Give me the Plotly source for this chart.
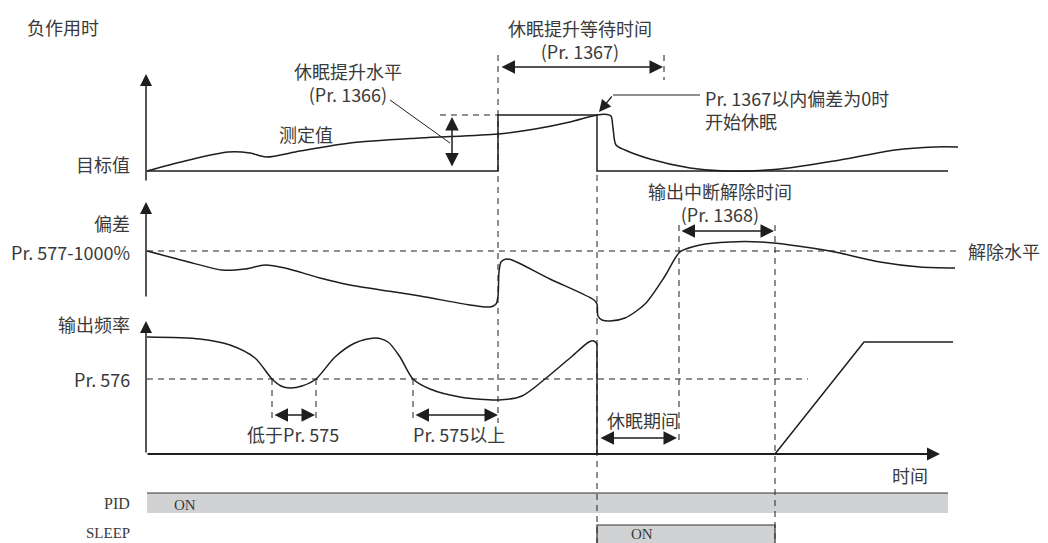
import plotly.graph_objects as go

# ---------------- data (time axis in diagram units) ----------------
t_origin = 146
t_boost_start = 498      # measured value reaches boost level / wait starts
t_sleep = 597            # sleep starts
t_wait_end = 664         # end of Pr.1367 window
t_release_start = 679    # deviation crosses release level
t_release_end = 775      # output interruption cancelled
t_low = [272, 316]       # below Pr.575 interval
t_high = [413, 499]      # Pr.575 or more interval

lvl_target = 171
lvl_boost = 115
lvl_release = 251
lvl_576 = 379
lvl_zero = 454

target_t = [147, 498, 498, 597, 597, 948]
target_v = [171, 171, 115, 115, 171, 171]

measured_t = [147, 185, 228, 250, 266, 300, 350, 420, 498, 535, 570, 597, 607, 611, 613, 616, 625, 650, 690, 725, 780, 840, 895, 935, 958]
measured_v = [171, 161, 152, 153, 157, 151, 143, 138, 134, 129, 122, 115, 114.5, 116, 128, 145, 150, 159, 168, 171, 169, 160, 150, 147, 147]

dev_t = [147, 185, 222, 245, 265, 285, 320, 350, 420, 470, 490, 496, 498, 499, 501, 506, 512, 550, 594, 597, 598, 602, 610, 625, 645, 665, 680, 700, 730, 760, 790, 830, 880, 920, 955]
dev_v = [251, 261, 270, 269, 265, 268, 278, 285, 296, 305, 307, 304, 296, 272, 262, 259, 260, 279, 300, 304, 316, 320, 321, 318, 304, 276, 252, 245, 242, 242, 245, 251, 262, 267, 268]

freq_t = [147, 200, 230, 255, 272, 281, 290, 302, 316, 335, 355, 375, 388, 400, 413, 430, 460, 499, 522, 545, 570, 589, 594, 597]
freq_v = [337, 339, 345, 358, 379, 386, 388, 386, 379, 357, 343, 338, 342, 357, 379, 389, 397, 400, 396, 379, 358, 342, 341, 344]
freq_after_t = [597, 597, 775, 864, 953]
freq_after_v = [344, 454, 454, 342, 342]

pid_on = [147, 948]
sleep_on = [597, 775]

# ---------------- styling ----------------
LINE = "#1e1e1e"
TXT = "#3a3a3a"
CJK = "Noto Sans CJK SC"
SERIF = "Liberation Serif"
DASH = "6px,5px"

fig = go.Figure()


def line(xs, ys, width=1.5, dash=None, shape="linear", color=LINE, smoothing=1.0):
    ln = dict(color=color, width=width, shape=shape)
    if dash:
        ln["dash"] = dash
    if shape == "spline":
        ln["smoothing"] = smoothing
    fig.add_trace(go.Scatter(x=xs, y=ys, mode="lines", line=ln,
                             hoverinfo="skip", showlegend=False))


def arrow(x0, y0, x1, y1, both=False, width=1.5, size=1.8):
    d = dict(x=x1, y=y1, ax=x0, ay=y0, xref="x", yref="y", axref="x", ayref="y",
             text="", showarrow=True, arrowhead=2, arrowsize=size, arrowwidth=width,
             arrowcolor=LINE, standoff=0, startstandoff=0)
    if both:
        d.update(arrowside="end+start", startarrowhead=2, startarrowsize=size)
    fig.add_annotation(**d)


def label(x, y, s, anchor="left", size=18, font=CJK, valign="middle"):
    fig.add_annotation(x=x, y=y, text=s, showarrow=False, xref="x", yref="y",
                       xanchor=anchor, yanchor=valign, align=anchor,
                       font=dict(family=font, size=size, color=TXT))


# ---- panel 1: measured value ----
arrow(t_origin, 182, t_origin, 74, size=1.6)
line(target_t, target_v, width=1.5)
line(measured_t, measured_v, width=1.5, shape="spline", smoothing=0.8)
line([440, t_boost_start], [lvl_boost, lvl_boost], width=1, dash=DASH)
arrow(452, 168, 452, lvl_boost + 2, both=True)
line([390, 450], [100, 143], width=1)
line([t_boost_start, t_boost_start], [55, 423], width=1, dash=DASH)
line([t_wait_end, t_wait_end], [55, 80], width=1, dash=DASH)
arrow(t_boost_start + 2, 67, t_wait_end - 1, 67, both=True)
line([700, 613], [95, 95], width=1)
arrow(613, 95, 599, 112, width=1.2, size=2)
line([t_sleep, t_sleep], [175, 543], width=1, dash=DASH)

# ---- panel 2: deviation ----
arrow(t_origin, 298, t_origin, 202, size=1.6)
line([147, 957], [lvl_release, lvl_release], width=1, dash=DASH)
line(dev_t, dev_v, width=1.5, shape="spline", smoothing=0.8)
arrow(t_release_start + 1, 231, t_release_end - 1, 231, both=True)
line([t_release_start, t_release_start], [225, 440], width=1, dash=DASH)
line([t_release_end, t_release_end], [225, 543], width=1, dash=DASH)

# ---- panel 3: output frequency ----
arrow(t_origin, 454, t_origin, 321, size=1.6)
arrow(t_origin, lvl_zero, 940, lvl_zero, width=2, size=1.3)
line([147, 808], [lvl_576, lvl_576], width=1, dash=DASH)
line(freq_t, freq_v, width=1.5, shape="spline", smoothing=0.8)
line(freq_after_t, freq_after_v, width=1.5)
for tx in [t_low[0], t_low[1], t_high[0]]:
    line([tx, tx], [lvl_576, 422], width=1, dash=DASH)
arrow(t_low[0] + 1, 415, t_low[1] - 1, 415, both=True)
arrow(t_high[0] + 1, 415, t_high[1] - 1, 415, both=True)
arrow(t_sleep + 2, 438, t_release_start - 2, 438, both=True)

# ---- status bars ----
fig.add_shape(type="rect", xref="x", yref="y", x0=pid_on[0], x1=pid_on[1], y0=493, y1=513,
              fillcolor="#d1d2d4", line=dict(width=0), layer="below")
line(pid_on, [493, 493], width=1.2, color="#333333")
fig.add_shape(type="rect", xref="x", yref="y", x0=sleep_on[0], x1=sleep_on[1], y0=525, y1=546,
              fillcolor="#d1d2d4", line=dict(width=0), layer="below")
line([sleep_on[0], sleep_on[0], sleep_on[1], sleep_on[1]], [546, 525, 525, 546], width=1.2, color="#333333")

# ---- texts ----
label(25, 27, "负作用时")
label(132, 164, "目标值", anchor="right")
label(348, 82, "休眠提升水平<br>(Pr. 1366)", anchor="center")
label(306, 134, "测定值", anchor="center")
label(580, 39, "休眠提升等待时间<br>(Pr. 1367)", anchor="center")
label(703, 109, "Pr. 1367以内偏差为0时<br>开始休眠", anchor="left")
label(720, 202, "输出中断解除时间<br>(Pr. 1368)", anchor="center")
label(966, 251, "解除水平")
label(132, 223, "偏差", anchor="right")
label(132, 252, "Pr. 577-1000%", anchor="right")
label(132, 324, "输出频率", anchor="right")
label(132, 379, "Pr. 576", anchor="right")
label(293, 434, "低于Pr. 575", anchor="center")
label(459, 434, "Pr. 575以上", anchor="center")
label(643, 420, "休眠期间", anchor="center")
label(910, 475, "时间", anchor="center")
label(132, 503, "PID", anchor="right", size=16, font=SERIF)
label(185, 505, "ON", anchor="center", size=15, font=SERIF)
label(132, 533, "SLEEP", anchor="right", size=15, font=SERIF)
label(642, 534, "ON", anchor="center", size=15, font=SERIF)

fig.update_layout(
    width=1048, height=543,
    margin=dict(l=0, r=0, t=0, b=0),
    paper_bgcolor="white", plot_bgcolor="white",
    showlegend=False,
    xaxis=dict(range=[0, 1048], visible=False, fixedrange=True),
    yaxis=dict(range=[543, 0], visible=False, fixedrange=True),
)

fig.write_html("out.html", config={"displayModeBar": False},
               post_script="document.body.style.margin='0';document.body.style.overflow='hidden';")
